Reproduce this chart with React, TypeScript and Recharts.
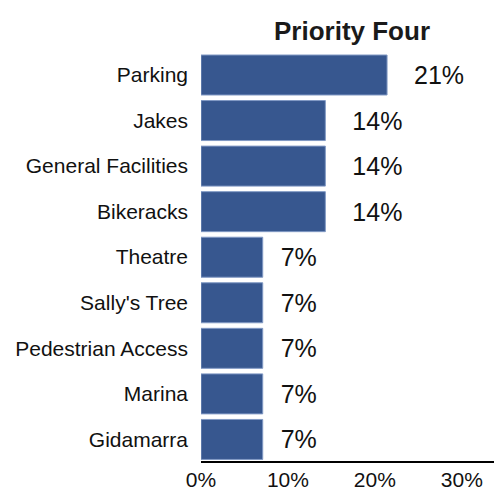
import { Bar, BarChart, LabelList, XAxis, YAxis } from "recharts";

const categories = [
  "Parking",
  "Jakes",
  "General Facilities",
  "Bikeracks",
  "Theatre",
  "Sally's Tree",
  "Pedestrian Access",
  "Marina",
  "Gidamarra",
];
const shares = [21.4, 14.3, 14.3, 14.3, 7.1, 7.1, 7.1, 7.1, 7.1];
const shareLabels = ["21%", "14%", "14%", "14%", "7%", "7%", "7%", "7%", "7%"];
const xTicks = [0, 10, 20, 30];

const data = categories.map((name, i) => ({ name, share: shares[i], label: shareLabels[i] }));

const font = "'Liberation Sans', Arial, sans-serif";

function ValueLabel(props: any) {
  const { x, y, width, height, value } = props;
  const gap = String(value).length > 2 ? 27 : 18;
  return (
    <text
      x={x + width + gap}
      y={y + height / 2}
      dominantBaseline="central"
      fontSize={25}
      fontFamily={font}
      fill="#111"
    >
      {value}
    </text>
  );
}

export default function App() {
  return (
    <div style={{ position: "absolute", left: 0, top: 0, width: 494, height: 491, background: "#fff" }}>
      <div
        style={{
          position: "absolute",
          left: 352,
          top: 31,
          transform: "translate(-50%, -50%)",
          fontFamily: font,
          fontWeight: "bold",
          fontSize: 26,
          color: "#1a1a1a",
          whiteSpace: "nowrap",
        }}
      >
        Priority Four
      </div>
      <BarChart
        width={494}
        height={491}
        data={data}
        layout="vertical"
        margin={{ top: 52, right: 0, bottom: 0, left: 0 }}
      >
        <XAxis
          type="number"
          domain={[0, 33.7]}
          ticks={xTicks}
          tickFormatter={(v) => `${v}%`}
          height={29}
          tickSize={0}
          tickMargin={10}
          axisLine={{ stroke: "#000", strokeWidth: 2 }}
          tickLine={false}
          tick={{ fontSize: 21, fontFamily: font, fill: "#111" }}
          allowDataOverflow
        />
        <YAxis
          type="category"
          dataKey="name"
          width={201}
          tickSize={0}
          tickMargin={13}
          axisLine={false}
          tickLine={false}
          interval={0}
          tick={{ fontSize: 21, fontFamily: font, fill: "#111" }}
        />
        <Bar dataKey="share" fill="#37578f" stroke="#8199c4" strokeWidth={1} barSize={40} isAnimationActive={false}>
          <LabelList dataKey="label" content={<ValueLabel />} />
        </Bar>
      </BarChart>
    </div>
  );
}
